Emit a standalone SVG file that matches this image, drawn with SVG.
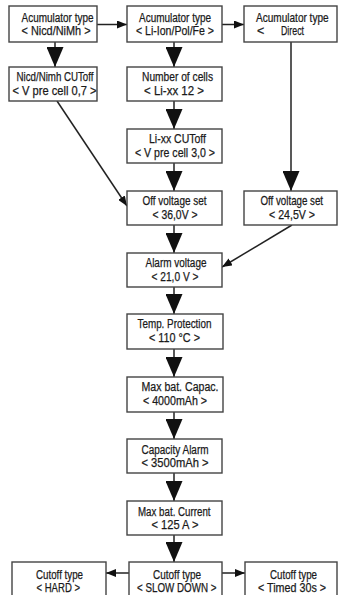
<svg xmlns="http://www.w3.org/2000/svg" width="338" height="595" viewBox="0 0 338 595">
<style>
.box{fill:#fff;stroke:#444;stroke-width:1.4}
.t{font-family:"Liberation Sans",Arial,sans-serif;font-size:12.5px;fill:#1a1a1a;stroke:#1a1a1a;stroke-width:0.25}
.c{fill:none;stroke:#222;stroke-width:1.5}
</style>
<defs>
<marker id="big" markerUnits="userSpaceOnUse" markerWidth="20" markerHeight="17" refX="20" refY="8.5" orient="auto" viewBox="0 0 20 17">
<path d="M0,0 L20,8.5 L0,17 z" fill="#111"/>
</marker>
<marker id="sm" markerUnits="userSpaceOnUse" markerWidth="10" markerHeight="8" refX="10" refY="4" orient="auto" viewBox="0 0 10 8">
<path d="M0,0 L10,4 L0,8 z" fill="#111"/>
</marker>
</defs>
<rect width="338" height="595" fill="#fff"/>
<g id="connectors">
<line class="c" x1="97" y1="24.5" x2="127" y2="24.5" marker-end="url(#sm)"/>
<line class="c" x1="222" y1="24.5" x2="244" y2="24.5" marker-end="url(#sm)"/>
<line class="c" x1="55" y1="42" x2="55" y2="67" marker-end="url(#big)"/>
<line class="c" x1="174" y1="42" x2="174" y2="67" marker-end="url(#big)"/>
<line class="c" x1="174" y1="101" x2="174" y2="129" marker-end="url(#big)"/>
<line class="c" x1="174" y1="163" x2="174" y2="191" marker-end="url(#big)"/>
<line class="c" x1="174" y1="225" x2="174" y2="253" marker-end="url(#big)"/>
<line class="c" x1="174" y1="287" x2="174" y2="314" marker-end="url(#big)"/>
<line class="c" x1="174" y1="349" x2="174" y2="377" marker-end="url(#big)"/>
<line class="c" x1="174" y1="412" x2="174" y2="439" marker-end="url(#big)"/>
<line class="c" x1="174" y1="473" x2="174" y2="501" marker-end="url(#big)"/>
<line class="c" x1="174" y1="535" x2="174" y2="562" marker-end="url(#big)"/>
<line class="c" x1="57" y1="101" x2="127" y2="206" marker-end="url(#sm)"/>
<line class="c" x1="291" y1="42" x2="291" y2="191" marker-end="url(#big)"/>
<line class="c" x1="292" y1="225" x2="222" y2="267" marker-end="url(#sm)"/>
<line class="c" x1="129" y1="573" x2="106" y2="573" marker-end="url(#sm)"/>
<line class="c" x1="222" y1="573" x2="245" y2="573" marker-end="url(#sm)"/>
</g>
<g id="n1"><rect class="box" x="9" y="6" width="88" height="36"/>
<text class="t" x="21.5" y="22" textLength="72" lengthAdjust="spacingAndGlyphs">Acumulator type</text>
<text class="t" x="21.5" y="35" textLength="69" lengthAdjust="spacingAndGlyphs">&lt; Nicd/NiMh &gt;</text></g>
<g id="n2"><rect class="box" x="127" y="6" width="95" height="36"/>
<text class="t" x="139" y="22" textLength="72" lengthAdjust="spacingAndGlyphs">Acumulator type</text>
<text class="t" x="136" y="35" textLength="78" lengthAdjust="spacingAndGlyphs">&lt; Li-Ion/Pol/Fe &gt;</text></g>
<g id="n3"><rect class="box" x="244" y="6" width="93" height="36"/>
<text class="t" transform="translate(256,22) scale(0.805,1)">Acumulator type</text>
<text class="t" y="35"><tspan x="257">&lt;</tspan><tspan x="281" textLength="23" lengthAdjust="spacingAndGlyphs">Direct</tspan></text></g>
<g id="n4"><rect class="box" x="9" y="67" width="88" height="34"/>
<text class="t" x="16.5" y="81" textLength="77" lengthAdjust="spacingAndGlyphs">Nicd/Nimh CUToff</text>
<text class="t" x="12.5" y="95" textLength="84" lengthAdjust="spacingAndGlyphs">&lt; V pre cell 0,7 &gt;</text></g>
<g id="n5"><rect class="box" x="127" y="67" width="95" height="34"/>
<text class="t" x="142" y="81" textLength="71" lengthAdjust="spacingAndGlyphs">Number of cells</text>
<text class="t" x="144" y="95" textLength="60" lengthAdjust="spacingAndGlyphs">&lt; Li-xx  12 &gt;</text></g>
<g id="n6"><rect class="box" x="127" y="129" width="95" height="34"/>
<text class="t" x="149" y="143" textLength="57" lengthAdjust="spacingAndGlyphs">Li-xx   CUToff</text>
<text class="t" x="135" y="157" textLength="80" lengthAdjust="spacingAndGlyphs">&lt; V pre cell 3,0 &gt;</text></g>
<g id="n7"><rect class="box" x="127" y="191" width="95" height="34"/>
<text class="t" x="142.5" y="205" textLength="64" lengthAdjust="spacingAndGlyphs">Off voltage set</text>
<text class="t" x="152.5" y="219" textLength="45" lengthAdjust="spacingAndGlyphs">&lt; 36,0V &gt;</text></g>
<g id="n8"><rect class="box" x="244" y="191" width="93" height="34"/>
<text class="t" transform="translate(260.5,205) scale(0.78,1)">Off voltage set</text>
<text class="t" x="269" y="219" textLength="46" lengthAdjust="spacingAndGlyphs">&lt; 24,5V &gt;</text></g>
<g id="n9"><rect class="box" x="127" y="253" width="95" height="34"/>
<text class="t" x="145.5" y="267" textLength="61" lengthAdjust="spacingAndGlyphs">Alarm voltage</text>
<text class="t" x="151.5" y="281" textLength="47" lengthAdjust="spacingAndGlyphs">&lt; 21,0 V &gt;</text></g>
<g id="n10"><rect class="box" x="127" y="314" width="96" height="35"/>
<text class="t" x="137.5" y="328" textLength="74" lengthAdjust="spacingAndGlyphs">Temp. Protection</text>
<text class="t" x="149" y="342" textLength="51" lengthAdjust="spacingAndGlyphs">&lt; 110 °C &gt;</text></g>
<g id="n11"><rect class="box" x="127" y="377" width="96" height="35"/>
<text class="t" x="141.5" y="391" textLength="77" lengthAdjust="spacingAndGlyphs">Max bat. Capac.</text>
<text class="t" x="143" y="405" textLength="64" lengthAdjust="spacingAndGlyphs">&lt; 4000mAh &gt;</text></g>
<g id="n12"><rect class="box" x="127" y="439" width="95" height="34"/>
<text class="t" x="141.5" y="454" textLength="67" lengthAdjust="spacingAndGlyphs">Capacity Alarm</text>
<text class="t" x="141.5" y="467" textLength="67" lengthAdjust="spacingAndGlyphs">&lt; 3500mAh  &gt;</text></g>
<g id="n13"><rect class="box" x="127" y="501" width="95" height="34"/>
<text class="t" x="138" y="516" textLength="72.5" lengthAdjust="spacingAndGlyphs">Max bat. Current</text>
<text class="t" x="151.5" y="529" textLength="47" lengthAdjust="spacingAndGlyphs">&lt; 125 A &gt;</text></g>
<g id="n14"><rect class="box" x="12" y="562" width="94" height="40"/>
<text class="t" x="36" y="579" textLength="47" lengthAdjust="spacingAndGlyphs">Cutoff type</text>
<text class="t" x="36.5" y="592" textLength="43.5" lengthAdjust="spacingAndGlyphs">&lt; HARD &gt;</text></g>
<g id="n15"><rect class="box" x="129" y="562" width="93" height="40"/>
<text class="t" x="153" y="579" textLength="48" lengthAdjust="spacingAndGlyphs">Cutoff type</text>
<text class="t" x="137" y="592" textLength="79.5" lengthAdjust="spacingAndGlyphs">&lt; SLOW DOWN &gt;</text></g>
<g id="n16"><rect class="box" x="245" y="562" width="92" height="40"/>
<text class="t" x="270" y="579" textLength="47" lengthAdjust="spacingAndGlyphs">Cutoff type</text>
<text class="t" x="258" y="592" textLength="68" lengthAdjust="spacingAndGlyphs">&lt; Timed 30s &gt;</text></g>
</svg>
